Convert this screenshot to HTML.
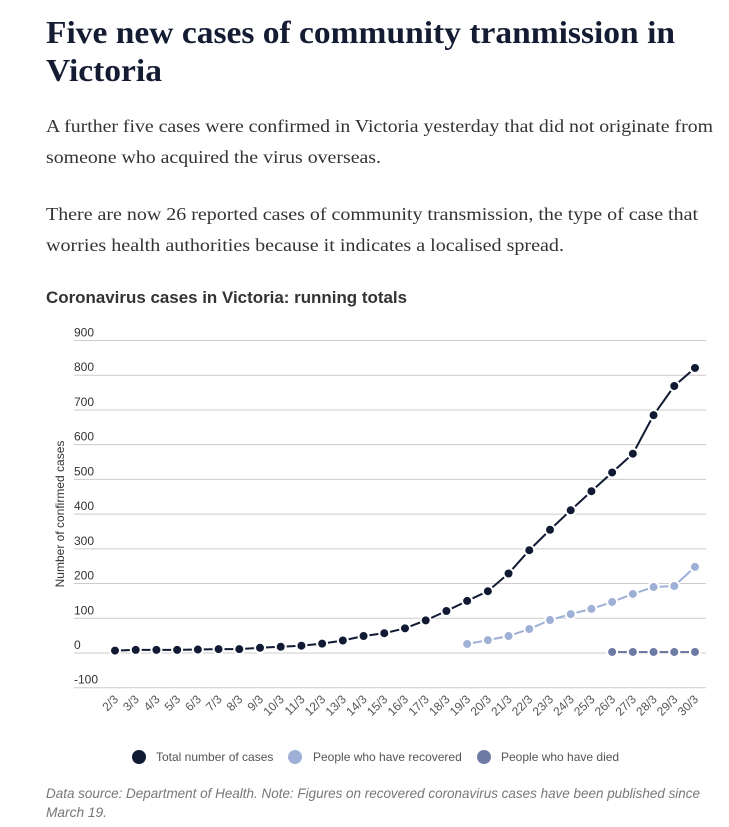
<!DOCTYPE html>
<html><head><meta charset="utf-8"><style>
html,body{margin:0;padding:0;background:#fff;}
svg{display:block;}
</style></head><body>
<svg width="729" height="827" viewBox="0 0 729 827" xmlns="http://www.w3.org/2000/svg">
<g font-family="Liberation Serif, serif" fill="#141c33">
<text x="46" y="43" font-size="32" font-weight="bold" textLength="629" lengthAdjust="spacingAndGlyphs">Five new cases of community tranmission in</text>
<text x="46" y="81" font-size="32" font-weight="bold" textLength="116" lengthAdjust="spacingAndGlyphs">Victoria</text>
</g>
<g font-family="Liberation Serif, serif" fill="#333" font-size="18">
<text x="46" y="132" textLength="667" lengthAdjust="spacingAndGlyphs">A further five cases were confirmed in Victoria yesterday that did not originate from</text>
<text x="46" y="163" textLength="335" lengthAdjust="spacingAndGlyphs">someone who acquired the virus overseas.</text>
<text x="46" y="220" textLength="652" lengthAdjust="spacingAndGlyphs">There are now 26 reported cases of community transmission, the type of case that</text>
<text x="46" y="251" textLength="518" lengthAdjust="spacingAndGlyphs">worries health authorities because it indicates a localised spread.</text>
</g>
<text x="46" y="303" font-family="Liberation Sans, sans-serif" font-weight="bold" font-size="17" fill="#333" textLength="361" lengthAdjust="spacingAndGlyphs">Coronavirus cases in Victoria: running totals</text>
<g id="grid" stroke="#ccc" stroke-width="1"></g>
<g id="ylab" font-family="Liberation Sans, sans-serif" font-size="12" fill="#333"></g>
<text transform="translate(64,514) rotate(-90)" text-anchor="middle" font-family="Liberation Sans, sans-serif" font-size="12" fill="#333">Number of confirmed cases</text>
<g id="xlab" font-family="Liberation Sans, sans-serif" font-size="12" fill="#555"></g>
<g id="series"></g>
<g font-family="Liberation Sans, sans-serif" font-size="12" fill="#555">
<circle cx="139" cy="757" r="7" fill="#101a33"/><text x="156" y="761">Total number of cases</text>
<circle cx="295" cy="757" r="7" fill="#9fb0d6"/><text x="313" y="761">People who have recovered</text>
<circle cx="484" cy="757" r="7" fill="#6d7aa3"/><text x="501" y="761">People who have died</text>
</g>
<g font-family="Liberation Sans, sans-serif" font-style="italic" font-size="14" fill="#777">
<text x="46" y="798" textLength="654" lengthAdjust="spacingAndGlyphs">Data source: Department of Health. Note: Figures on recovered coronavirus cases have been published since</text>
<text x="46" y="817" textLength="61" lengthAdjust="spacingAndGlyphs">March 19.</text>
</g>
<script>
var NS="http://www.w3.org/2000/svg";
function el(p,t,a,txt){var e=document.createElementNS(NS,t);for(var k in a)e.setAttribute(k,a[k]);if(txt!=null)e.textContent=txt;document.getElementById(p).appendChild(e);return e;}
function Y(v){return 653-v*0.3472;}
for(var v=-100;v<=900;v+=100){var y=Y(v);el("grid","line",{x1:74,x2:706,y1:y,y2:y});el("ylab","text",{x:74,y:y-4},String(v));}
function X(i){return 115+i*20.714;}
for(var i=0;i<29;i++){var x=X(i)+4;el("xlab","text",{x:x,y:700,"text-anchor":"end",transform:"rotate(-45 "+x+" 700)"},(i+2)+"/3");}
var tot=[7,9,9,9,10,11,11,15,18,21,27,36,49,57,71,94,121,150,178,229,296,355,411,466,520,574,685,769,821];
var rec=[26,37,49,69,95,112,127,147,170,190,193,248];
var died=[3,3,3,3,3];
function draw(d,off,col){var pts=d.map(function(v,j){return X(j+off)+","+Y(v);}).join(" ");
el("series","polyline",{points:pts,fill:"none",stroke:col,"stroke-width":2});
d.forEach(function(v,j){el("series","circle",{cx:X(j+off),cy:Y(v),r:5,fill:col,stroke:"#fff","stroke-width":2});});}
draw(rec,17,"#9fb0d6");draw(died,24,"#6d7aa3");draw(tot,0,"#101a33");
</script>
</svg>
</body></html>
